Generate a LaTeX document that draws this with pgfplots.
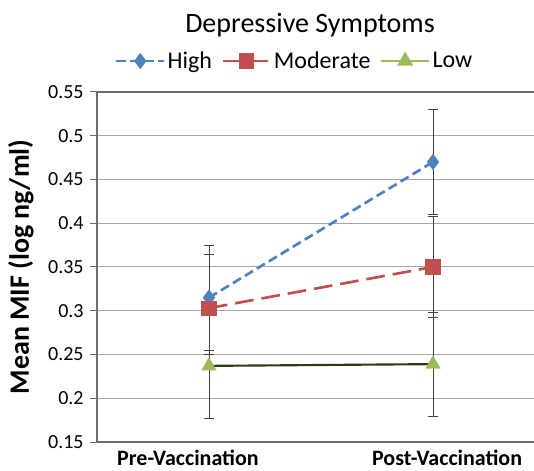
\documentclass[border=0pt]{standalone}
\usepackage{pgfplots}
\pgfplotsset{compat=1.18}
\usepackage{pgfplotstable}
\usepackage{fontspec}
\setmainfont{Carlito}
\definecolor{cHigh}{HTML}{4F81BD}
\definecolor{cMod}{HTML}{C0504D}
\definecolor{cLow}{HTML}{9BBB59}
\definecolor{cLowLine}{HTML}{2E3A12}
\definecolor{cGrid}{HTML}{A6A6A6}
\definecolor{cAxis}{HTML}{6E6E6E}
\definecolor{cErr}{HTML}{404040}

\pgfplotstableread{
x y ep em
1 0.315 0.060 0.060
2 0.470 0.060 0.060
}\high
\pgfplotstableread{
x y ep em
1 0.303 0.061 0.053
2 0.350 0.058 0.058
}\moderate
\pgfplotstableread{
x y ep em
1 0.237 0.060 0.060
2 0.239 0.059 0.060
}\low

\begin{document}
\begin{tikzpicture}
\begin{axis}[
  at={(72.75pt,21pt)}, anchor=south west,
  scale only axis, width=336pt, height=262.5pt,
  xmin=0.5, xmax=2.5, ymin=0.15, ymax=0.55,
  axis x line*=bottom, axis y line*=left,
  ytick={0.15,0.2,0.25,0.3,0.35,0.4,0.45,0.5},
  extra y ticks={0.55},
  extra y tick style={grid style={draw=cAxis, line width=0.9pt}},
  xtick={0.906,2.063},
  xticklabels={Pre-Vaccination,Post-Vaccination},
  xtick style={draw=none},
  ytick style={draw=cAxis, line width=0.75pt},
  ytick pos=left, tick align=outside, major tick length=5.5pt,
  axis line style={draw=cAxis, line width=0.9pt},
  ymajorgrids, grid style={draw=cGrid, line width=0.75pt},
  /pgf/number format/assume math mode=true,
  /pgf/number format/fixed,
  /pgf/number format/precision=2,
  yticklabel style={font=\fontsize{15}{17}\selectfont, xshift=-1pt},
  xticklabel style={font=\bfseries\fontsize{16.5}{19}\selectfont, anchor=base, inner sep=1pt, yshift=-12.4pt},
  ylabel={Mean MIF (log ng/ml)},
  every axis y label/.style={at={(axis description cs:-0.17,0.5)}, rotate=90, anchor=center, font=\bfseries\fontsize{21}{24}\selectfont},
  legend columns=3,
  legend style={at={(axis description cs:0.0394,1.0886)}, anchor=west, draw=none, fill=none, inner sep=0pt,
    font=\fontsize{18}{21}\selectfont,
    /tikz/every even column/.append style={column sep=5.5pt},
    nodes={inner sep=1.5pt}},
  legend image code/.code={\draw[mark repeat=2,mark phase=2,#1] plot coordinates {(0pt,0pt) (18pt,0pt) (36pt,0pt)};},
  error bars/y dir=both, error bars/y explicit,
  error bars/error bar style={draw=cErr, line width=0.75pt, solid},
  error bars/error mark options={draw=cErr, line width=0.75pt, mark size=4pt, rotate=90, solid},
]
\addplot[cHigh, line width=2pt, dash pattern=on 7pt off 3.5pt, mark=diamond*, mark size=4.5pt,
  mark options={solid, fill=cHigh, draw=cHigh}]
  table[x=x, y=y, y error plus=ep, y error minus=em] {\high};
\addlegendentry{High}
\addplot[cMod, line width=2pt, dash pattern=on 14pt off 6pt, mark=square*, mark size=4.7pt,
  mark options={solid, fill=cMod, draw=cMod}]
  table[x=x, y=y, y error plus=ep, y error minus=em] {\moderate};
\addlegendentry{Moderate}
\addplot[cLowLine, line width=1.6pt, mark=triangle*, mark size=5pt,
  mark options={solid, fill=cLow, draw=cLow}, forget plot]
  table[x=x, y=y, y error plus=ep, y error minus=em] {\low};
\addlegendimage{cLow, line width=2pt, mark=triangle*, mark size=5pt, mark options={solid, fill=cLow, draw=cLow}}
\addlegendentry{Low}
\end{axis}
\node[anchor=base, font=\fontsize{21}{24}\selectfont] at (232.5pt,327.75pt) {Depressive Symptoms};
\pgfresetboundingbox
\path[use as bounding box] (0,0) rectangle (400.5pt,352.5pt);
\end{tikzpicture}
\end{document}
